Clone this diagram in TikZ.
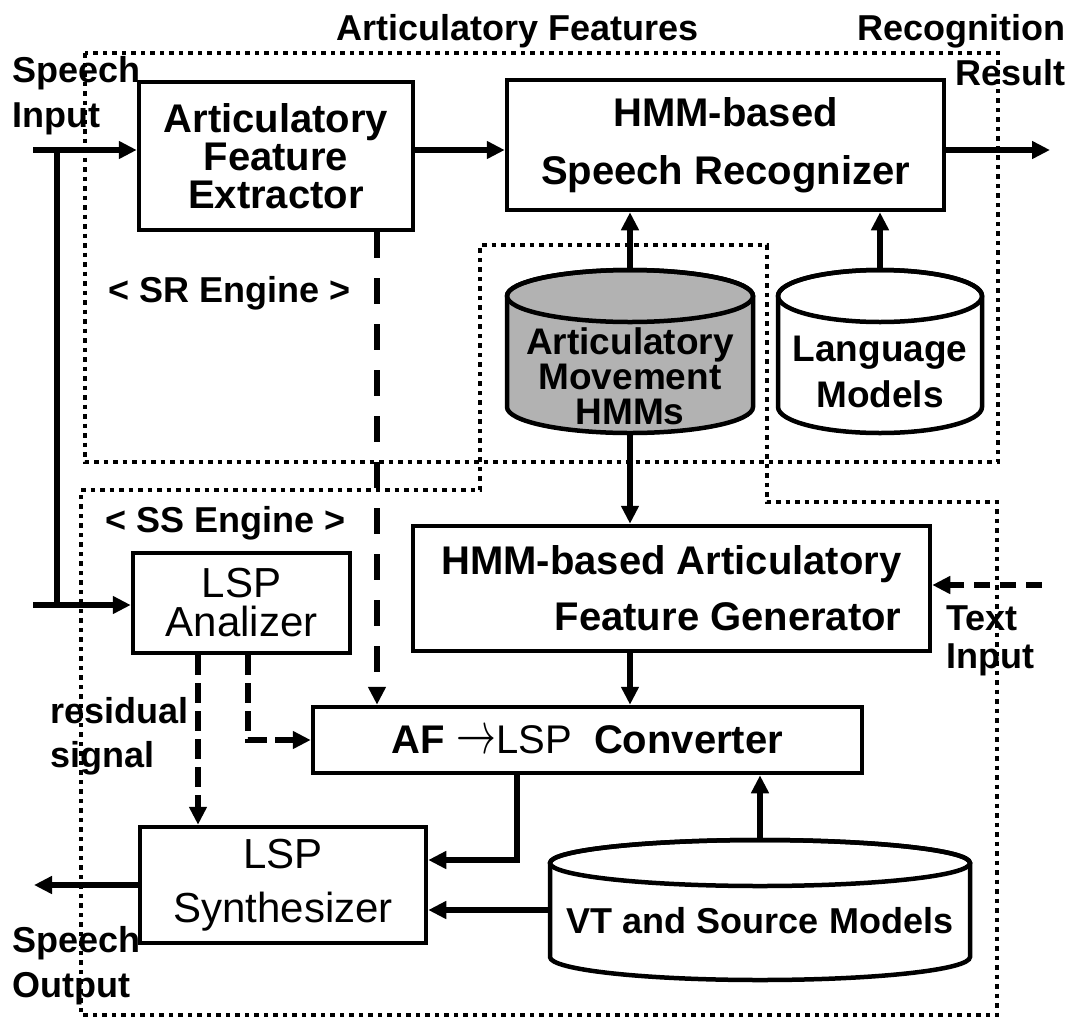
\documentclass[tikz,border=0pt]{standalone}
\usepackage{graphicx}
\usepackage{fontspec}
\setmainfont{Liberation Sans}
\usetikzlibrary{arrows.meta}

\begin{document}
\begin{tikzpicture}[x=1pt, y=-1pt,
            box/.style = {draw, line width=4.5pt, align=center, inner sep=0pt,
                font=\bfseries\fontsize{40}{38}\selectfont},
            lspbox/.style = {box, font=\fontsize{42}{39}\selectfont},
            cyltext/.style = {align=center, inner sep=0pt,
                font=\bfseries\fontsize{37}{35}\selectfont},
            lbl/.style = {align=left, inner sep=0pt,
                font=\bfseries\fontsize{36}{45}\selectfont},
            cyl/.style = {line width=4.5pt},
            region/.style = {line width=4.5pt, dash pattern=on 4.5pt off 5pt},
            arr/.style = {line width=5.5pt, -{Triangle[length=18pt,width=17pt]}},
            dasharr/.style = {arr, line width=6pt, dash pattern=on 26pt off 20pt},
            shortdash/.style = {arr, line width=6pt, dash pattern=on 20pt off 8pt},
            textdash/.style = {arr, line width=6pt, dash pattern=on 16pt off 10pt}]
\useasboundingbox (0,0) rectangle (1075,1020);

% engine regions
\draw[region] (85,53) rectangle (998,462);
\draw[region] (81,490) -- (480,490) -- (480,245) -- (767,245) -- (767,502)
    -- (997,502) -- (997,1015) -- (81,1015) -- cycle;

% boxes
\node[box, minimum width=274pt, minimum height=148pt] (afx) at (276,156)
    {Articulatory\\Feature\\Extractor};
\node[box, minimum width=437pt, minimum height=130pt] (hsr) at (725.5,145)
    {HMM-based\\[20pt]Speech Recognizer};
\node[box, align=right, minimum width=517pt, minimum height=125pt] (afg) at (671.5,588.5)
    {HMM-based Articulatory\\[18pt]Feature Generator};
\node[lspbox, minimum width=217pt, minimum height=100pt] (ana) at (241.5,603)
    {LSP\\Analizer};
\node[box, minimum width=549pt, minimum height=66pt] (cnv) at (587.5,740)
    {AF \scalebox{1.6}[2.4]{$\rightarrow$}{\mdseries LSP}~~Converter};
\node[lspbox, minimum width=286pt, minimum height=116pt] (syn) at (283,885)
    {LSP\\[15pt]Synthesizer};

% databases
\filldraw[cyl, fill=black!30] (507,296) -- (507,407)
    arc[start angle=180, end angle=360, x radius=123pt, y radius=26pt]
    -- (753,296) arc[start angle=0, end angle=180, x radius=123pt, y radius=26pt] -- cycle;
\draw[cyl] (630,296) ellipse [x radius=123pt, y radius=26pt];
\node[cyltext] (amh) at (630,376) {Articulatory\\Movement\\HMMs};
\draw[cyl] (778,296) -- (778,407)
    arc[start angle=180, end angle=360, x radius=102pt, y radius=26pt]
    -- (982,296) arc[start angle=0, end angle=180, x radius=102pt, y radius=26pt] -- cycle;
\draw[cyl] (880,296) ellipse [x radius=102pt, y radius=26pt];
\node[cyltext] (lm) at (880,372) {Language\\[11pt]Models};
\draw[cyl] (550,863) -- (550,957)
    arc[start angle=180, end angle=360, x radius=210pt, y radius=23pt]
    -- (970,863) arc[start angle=0, end angle=180, x radius=210pt, y radius=23pt] -- cycle;
\draw[cyl] (760,863) ellipse [x radius=210pt, y radius=23pt];
\node[cyltext, font=\bfseries\fontsize{36}{36}\selectfont] (vt) at (760,921)
    {VT and Source Models};

% labels
\node[lbl, anchor=base] (aft) at (518,40) {Articulatory Features};
\node[lbl, align=right, anchor=north east] (rec) at (1066,14) {Recognition\\Result};
\node[lbl, anchor=north west] (spi) at (12,56) {Speech\\Input};
\node[lbl, anchor=base west] (sre) at (108,302) {< SR Engine >};
\node[lbl, anchor=base west] (sse) at (105,532) {< SS Engine >};
\node[lbl, anchor=north west] (res) at (50,697) {residual\\[-1pt]signal};
\node[lbl, anchor=north west] (txi) at (946,606) {Text\\[-7pt]Input};
\node[lbl, anchor=north west] (spo) at (12,926) {Speech\\Output};

% connection points
\coordinate (in1) at (33,150);
\coordinate (in2) at (33,605);
\coordinate (split) at (57,150);
\coordinate (out1) at (1050,150);
\coordinate (out2) at (34,885);
\coordinate (tin) at (1042,585);
\coordinate (amhtop) at (630,270);
\coordinate (amhbot) at (630,433);
\coordinate (lmtop) at (880,270);
\coordinate (vttop) at (760,840);
\coordinate (vtleft) at (550,910);
\coordinate (dx) at (377,0);
\coordinate (ax1) at (198,0);
\coordinate (ax2) at (248,0);
\coordinate (cx) at (517,860);

% signal flow
\draw[arr] (in1) -- (in1 -| afx.west);
\draw[line width=5.5pt] (split) -- (split |- in2);
\draw[arr] (in2) -- (in2 -| ana.west);
\draw[arr] (afx.east |- in1) -- (hsr.west |- in1);
\draw[arr] (hsr.east |- in1) -- (out1);
\draw[arr] (amhtop) -- (hsr.south -| amhtop);
\draw[arr] (lmtop) -- (hsr.south -| lmtop);
\draw[arr] (amhbot) -- (afg.north -| amhbot);
\draw[arr] (afg.south -| amhbot) -- (cnv.north -| amhbot);
\draw[dasharr] (afx.south -| dx) -- (cnv.north -| dx);
\draw[textdash] (tin) -- (afg.east |- tin);
\draw[shortdash] (ana.south -| ax2) |- (cnv.west);
\draw[shortdash] (ana.south -| ax1) -- (syn.north -| ax1);
\draw[arr] (cnv.south -| cx) |- (syn.east |- cx);
\draw[arr] (vttop) -- (cnv.south -| vttop);
\draw[arr] (vtleft) -- (syn.east |- vtleft);
\draw[arr] (syn.west) -- (out2);
\end{tikzpicture}
\end{document}
